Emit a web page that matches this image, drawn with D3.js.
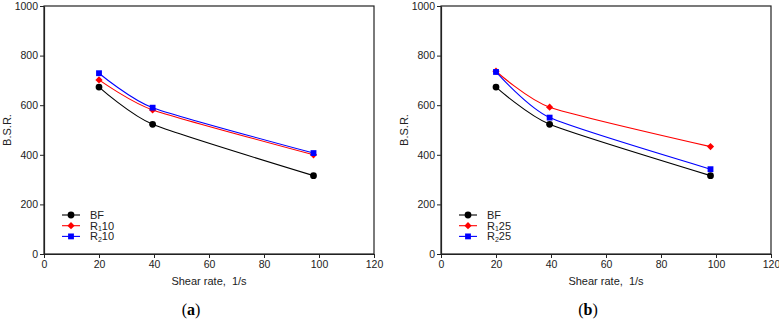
<!DOCTYPE html>
<html>
<head>
<meta charset="utf-8">
<script src="https://cdn.jsdelivr.net/npm/d3@7"></script>
<style>
  body { margin: 0; background: #fff; }
  svg text { font-family: "Liberation Sans", Arial, sans-serif; }
</style>
</head>
<body>
<div id="chart"></div>
<script>
// shear rates, 1/s
var shear = [20, 39.5, 98];

// B.S.R. values
var bf = [673, 523, 316];
var r1_10 = [702, 581, 400];
var r2_10 = [729, 590, 407];
var r1_25 = [737, 592, 433];
var r2_25 = [734, 550, 342];

var xTicks = [0, 20, 40, 60, 80, 100, 120];
var yTicks = [0, 200, 400, 600, 800, 1000];

var panels = [
    { left: 44, right: 374, tag: "a", series: [
        { name: "BF", sub: "", tail: "", values: bf, color: "#000", shape: "circle" },
        { name: "R", sub: "1", tail: "10", values: r1_10, color: "#ff0000", shape: "diamond" },
        { name: "R", sub: "2", tail: "10", values: r2_10, color: "#0000ff", shape: "square" }
    ]},
    { left: 441, right: 771, tag: "b", series: [
        { name: "BF", sub: "", tail: "", values: bf, color: "#000", shape: "circle" },
        { name: "R", sub: "1", tail: "25", values: r1_25, color: "#ff0000", shape: "diamond" },
        { name: "R", sub: "2", tail: "25", values: r2_25, color: "#0000ff", shape: "square" }
    ]}
];

var W = 779, H = 322, top_y = 6, bottom_y = 254;

var svg = d3.select("#chart")
    .append("svg")
        .attr("width", W)
        .attr("height", H);

var symbols = {
    circle: d3.symbolCircle,
    diamond: d3.symbolSquare,   // drawn rotated 45deg
    square: d3.symbolSquare
};
var symSize = { circle: 36, diamond: 26, square: 34 };
var symRot = { circle: 0, diamond: 45, square: 0 };

panels.forEach(function(p){
    var x = d3.scaleLinear().domain([0, 120]).range([p.left, p.right]);
    var y = d3.scaleLinear().domain([0, 1000]).range([bottom_y, top_y]);

    var g = svg.append("g");

    // frame
    g.append("rect")
        .attr("x", p.left)
        .attr("y", top_y)
        .attr("width", p.right - p.left)
        .attr("height", bottom_y - top_y)
        .attr("fill", "none")
        .attr("stroke", "#222")
        .attr("stroke-width", 1.2);

    var xAxis = g.append("g")
        .attr("transform", "translate(0," + bottom_y + ")")
        .call(d3.axisBottom(x).tickValues(xTicks).tickFormat(d3.format("d")).tickSize(4).tickSizeOuter(0).tickPadding(3));
    var yAxis = g.append("g")
        .attr("transform", "translate(" + p.left + ",0)")
        .call(d3.axisLeft(y).tickValues(yTicks).tickFormat(d3.format("d")).tickSize(4).tickSizeOuter(0).tickPadding(2));

    [xAxis, yAxis].forEach(function(a){
        a.select(".domain").attr("stroke", "#222").attr("stroke-width", 1.2);
        a.selectAll(".tick line").attr("stroke", "#222");
        a.selectAll(".tick text")
            .attr("font-size", "10.5px")
            .attr("fill", "#222")
            .style("font-family", "Liberation Sans, Arial, sans-serif");
    });

    // axis titles
    g.append("text")
        .attr("x", (p.left + p.right) / 2)
        .attr("y", 285)
        .attr("text-anchor", "middle")
        .attr("font-size", "11px")
        .attr("fill", "#222")
        .attr("xml:space", "preserve")
        .text("Shear rate,  1/s");

    g.append("text")
        .attr("transform", "translate(" + (p.left - 33) + "," + ((top_y + bottom_y) / 2) + ") rotate(-90)")
        .attr("text-anchor", "middle")
        .attr("font-size", "11px")
        .attr("fill", "#222")
        .text("B.S.R.");

    // panel tag
    var tag = g.append("text")
        .attr("x", (p.left + p.right) / 2 - 18)
        .attr("y", 315)
        .attr("text-anchor", "middle")
        .attr("font-size", "16px")
        .style("font-family", "Liberation Serif, Times New Roman, serif")
        .attr("fill", "#000");
    tag.append("tspan").text("(");
    tag.append("tspan").attr("font-weight", "bold").text(p.tag);
    tag.append("tspan").text(")");

    var line = d3.line()
        .x(function(d, i){ return x(shear[i]); })
        .y(function(d){ return y(d); })
        .curve(d3.curveCardinal.tension(0.4));

    p.series.forEach(function(s){
        g.append("path")
            .attr("d", line(s.values))
            .attr("fill", "none")
            .attr("stroke", s.color)
            .attr("stroke-width", 1.1);

        g.selectAll(null)
            .data(s.values)
            .enter()
            .append("path")
            .attr("transform", function(d, i){
                return "translate(" + x(shear[i]) + "," + y(d) + ") rotate(" + symRot[s.shape] + ")";
            })
            .attr("d", d3.symbol().type(symbols[s.shape]).size(symSize[s.shape]))
            .attr("fill", s.color);
    });

    // legend
    var lg = g.append("g").attr("transform", "translate(" + (p.left + 18) + ",215)");
    p.series.forEach(function(s, i){
        var row = lg.append("g").attr("transform", "translate(0," + (i * 10.7) + ")");
        row.append("line")
            .attr("x1", 0).attr("x2", 18)
            .attr("stroke", s.color)
            .attr("stroke-width", 1.1);
        row.append("path")
            .attr("transform", "translate(9,0) rotate(" + symRot[s.shape] + ")")
            .attr("d", d3.symbol().type(symbols[s.shape]).size(symSize[s.shape]))
            .attr("fill", s.color);
        var t = row.append("text")
            .attr("x", 28)
            .attr("y", 4)
            .attr("font-size", "11px")
            .attr("fill", "#222");
        t.append("tspan").text(s.name);
        if (s.sub){
            t.append("tspan").attr("font-size", "7px").attr("dy", 1.5).text(s.sub);
            t.append("tspan").attr("dy", -1.5).text(s.tail);
        }
    });
});
</script>
</body>
</html>
